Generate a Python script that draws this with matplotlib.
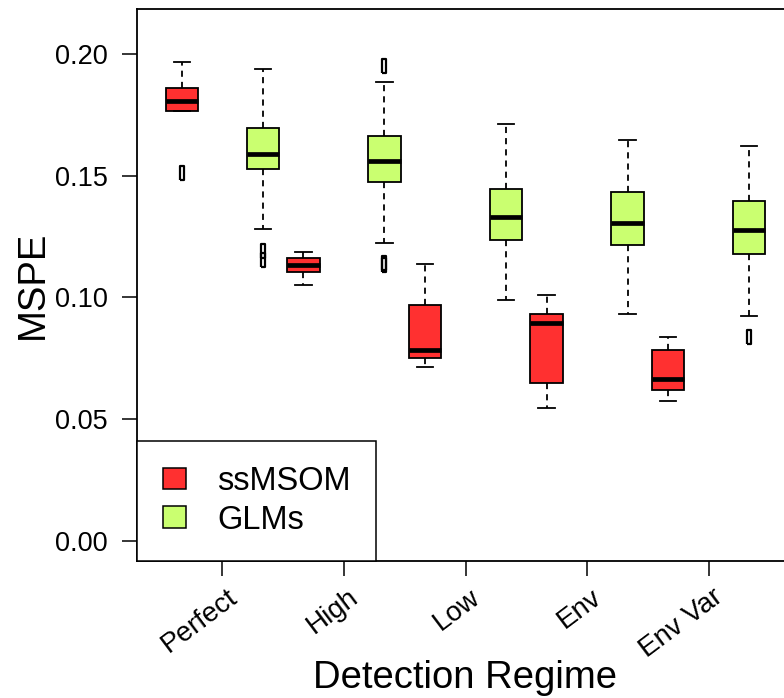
import matplotlib
matplotlib.use("Agg")
import matplotlib.pyplot as plt
import matplotlib.transforms as mtransforms
from matplotlib.patches import Patch

plt.rcParams['font.family'] = ['Liberation Sans', 'DejaVu Sans']

labels = ["Perfect", "High", "Low", "Env", "Env Var"]

# ssMSOM boxes
ss_whislo = [0.1764, 0.1049, 0.0715, 0.0546, 0.0572]
ss_q1 = [0.1764, 0.1106, 0.0750, 0.0647, 0.0621]
ss_med = [0.1809, 0.1134, 0.0783, 0.0894, 0.0665]
ss_q3 = [0.1859, 0.1161, 0.0967, 0.0930, 0.0785]
ss_whishi = [0.1968, 0.1186, 0.1139, 0.1008, 0.0835]
ss_fliers = [[0.1513], [], [], [], []]

# GLM boxes
glm_whislo = [0.1281, 0.1225, 0.0989, 0.0932, 0.0922]
glm_q1 = [0.1527, 0.1473, 0.1237, 0.1217, 0.1176]
glm_med = [0.1589, 0.1561, 0.1331, 0.1304, 0.1277]
glm_q3 = [0.1698, 0.1664, 0.1446, 0.1432, 0.1396]
glm_whishi = [0.1937, 0.1884, 0.1712, 0.1645, 0.1622]
glm_fliers = [[0.1192, 0.1153], [0.1951, 0.1141, 0.1133], [], [], [0.0835]]

red = '#FF3030'
green = '#CAFF70'


def make_stats(lo, q1, med, q3, hi, fl):
    return [dict(whislo=lo[i], q1=q1[i], med=med[i], q3=q3[i], whishi=hi[i],
                 fliers=fl[i]) for i in range(len(lo))]


fig = plt.figure(figsize=(7.84, 6.98), dpi=100)
W, H = 784, 698
left, right, top, bottom = 137.4, 793.6, 9.3, 561
ax = fig.add_axes([left / W, 1 - bottom / H, (right - left) / W, (bottom - top) / H])

# R-like positions: red at 1,4,..; green at 3,6,..; ticks at 2,5,..
ss_pos = [1 + 3 * i for i in range(5)]
glm_pos = [3 + 3 * i for i in range(5)]
tick_pos = [2 + 3 * i for i in range(5)]

flier_marker = [(-0.34, -1), (0.34, -1), (0.34, 1), (-0.34, 1), (-0.34, -1)]

for stats, pos, col in [(make_stats(ss_whislo, ss_q1, ss_med, ss_q3, ss_whishi, ss_fliers), ss_pos, red),
                        (make_stats(glm_whislo, glm_q1, glm_med, glm_q3, glm_whishi, glm_fliers), glm_pos, green)]:
    ax.bxp(stats, positions=pos, widths=0.8, capwidths=0.4, patch_artist=True,
           boxprops=dict(facecolor=col, edgecolor='black', linewidth=1.3),
           medianprops=dict(color='black', linewidth=3.4, solid_capstyle='butt'),
           whiskerprops=dict(color='black', linewidth=1.3, linestyle=(0, (3.4, 2.8))),
           capprops=dict(color='black', linewidth=1.3),
           flierprops=dict(marker=flier_marker, markersize=9.5, markerfacecolor='none',
                           markeredgecolor='black', markeredgewidth=1.6, linestyle='none'))

ax.set_xlim(-0.1, 16.1)
ax.set_ylim(-0.0084, 0.2184)
ax.set_yticks([0.0, 0.05, 0.10, 0.15, 0.20])
ax.set_yticklabels(["0.00", "0.05", "0.10", "0.15", "0.20"])
ax.set_xticks(tick_pos)
ax.set_xticklabels([])
ax.tick_params(axis='both', length=10.8, width=1.1, color='black', labelsize=19.5, pad=10.5)

for s in ax.spines.values():
    s.set_linewidth(1.3)

# rotated category labels
off = mtransforms.ScaledTranslation(10 / 100, -31 / 100, fig.dpi_scale_trans)
for x, lab in zip(tick_pos, labels):
    ax.text(x, 0, lab, transform=ax.get_xaxis_transform() + off, rotation=37,
            rotation_mode='anchor', ha='right', va='center_baseline', fontsize=20,
            clip_on=False)

ax.set_ylabel("MSPE", fontsize=27.5, va='baseline')
ax.yaxis.set_label_coords((42.7 - left) / (right - left), 0.5)
ax.set_xlabel("Detection Regime", fontsize=27.5, va='baseline')
ax.xaxis.set_label_coords((465 - left) / (right - left), -(688 - bottom) / (bottom - top))

handles = [Patch(facecolor=red, edgecolor='black', linewidth=1.1),
           Patch(facecolor=green, edgecolor='black', linewidth=1.1)]
leg = ax.legend(handles, ["ssMSOM", "GLMs"], loc='lower left', borderaxespad=0,
                fancybox=False, framealpha=1, edgecolor='black', fontsize=23.5,
                handlelength=0.72, handleheight=0.62, handletextpad=0.95,
                borderpad=0.78, labelspacing=0.22)
leg.get_frame().set_linewidth(1.1)

fig.savefig("out.png", dpi=100)
